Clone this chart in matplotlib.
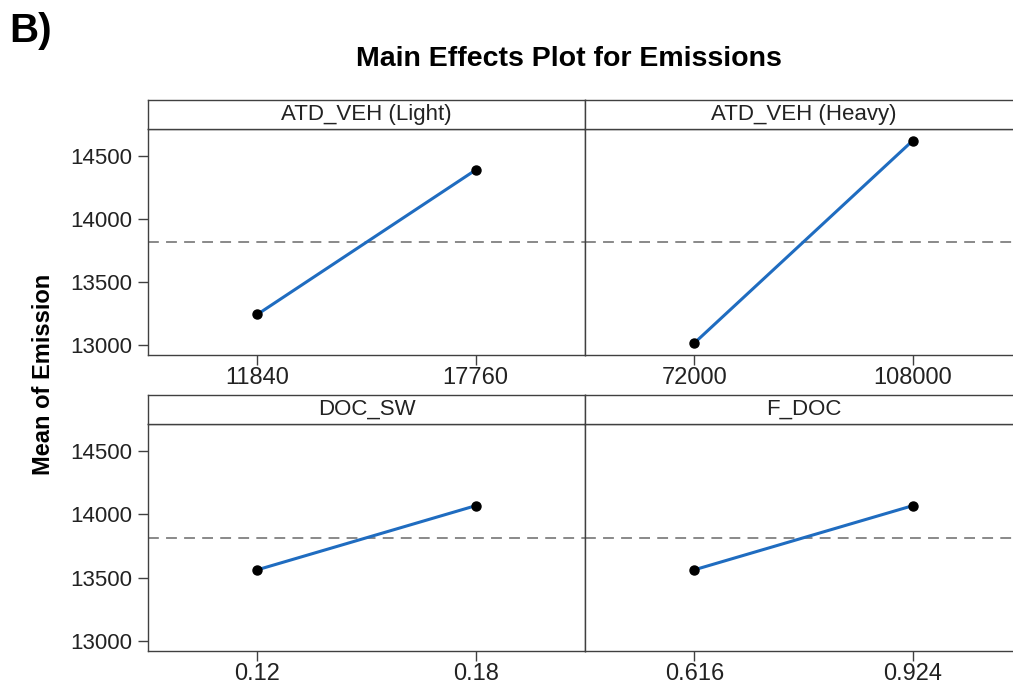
import matplotlib.pyplot as plt

plt.rcParams['font.family'] = ['Liberation Sans', 'DejaVu Sans']

# factor names, level labels and mean response at each level
factors = ['ATD_VEH (Light)', 'ATD_VEH (Heavy)', 'DOC_SW', 'F_DOC']
levels = [['11840', '17760'], ['72000', '108000'], ['0.12', '0.18'], ['0.616', '0.924']]
means = [[13243, 14388], [13016, 14620], [13562, 14068], [13562, 14068]]
grand_mean = 13815
yticks = [13000, 13500, 14000, 14500]

fig = plt.figure(figsize=(10.13, 6.87), dpi=100)
W, H = 1013.0, 687.0

# panel boxes in pixels: (left, top of strip, bottom of data area)
boxes = [(148, 100, 355), (585, 100, 355), (148, 395, 651), (585, 395, 651)]
panel_w = 437
strip_h = 29
edge = '#404040'

for i, (x0, top, bot) in enumerate(boxes):
    ax = fig.add_axes([x0 / W, 1 - bot / H, panel_w / W, (bot - top - strip_h) / H])
    ax.axhline(grand_mean, color='#808080', lw=1.3, ls=(0, (6, 4)), zorder=1)
    ax.plot([1, 2], means[i], color='#1f6cc0', lw=2.2, zorder=2)
    ax.plot([1, 2], means[i], 'o', color='black', ms=6.5, zorder=3)
    ax.set_xlim(0.5, 2.5)
    ax.set_ylim(12922, 14712)
    ax.set_xticks([1, 2])
    ax.set_xticklabels(levels[i], fontsize=17, color='#222222')
    ax.tick_params(axis='x', length=7, width=1, color=edge, pad=2)
    if i % 2 == 0:
        ax.set_yticks(yticks)
        ax.set_yticklabels([str(v) for v in yticks], fontsize=16, color='#222222')
        ax.tick_params(axis='y', length=7, width=1, color=edge, pad=4)
    else:
        ax.set_yticks([])
    for s in ax.spines.values():
        s.set_color(edge)
        s.set_linewidth(1)

    # header strip with the factor name
    sx = fig.add_axes([x0 / W, 1 - (top + strip_h) / H, panel_w / W, strip_h / H])
    sx.set_xticks([])
    sx.set_yticks([])
    for s in sx.spines.values():
        s.set_color(edge)
        s.set_linewidth(1)
    sx.text(0.5, 0.5, factors[i], ha='center', va='center', fontsize=16,
            color='#222222', transform=sx.transAxes)

fig.text(569 / W, 1 - 59 / H, 'Main Effects Plot for Emissions', ha='center',
         va='center', fontsize=20.5, fontweight='bold')
fig.text(9 / W, 1 - 31 / H, 'B)', ha='left', va='center', fontsize=29,
         fontweight='bold')
fig.text(43 / W, 1 - 374 / H, 'Mean of Emission', ha='center', va='center',
         rotation=90, fontsize=17, fontweight='bold')

fig.savefig('out.png', dpi=100)
